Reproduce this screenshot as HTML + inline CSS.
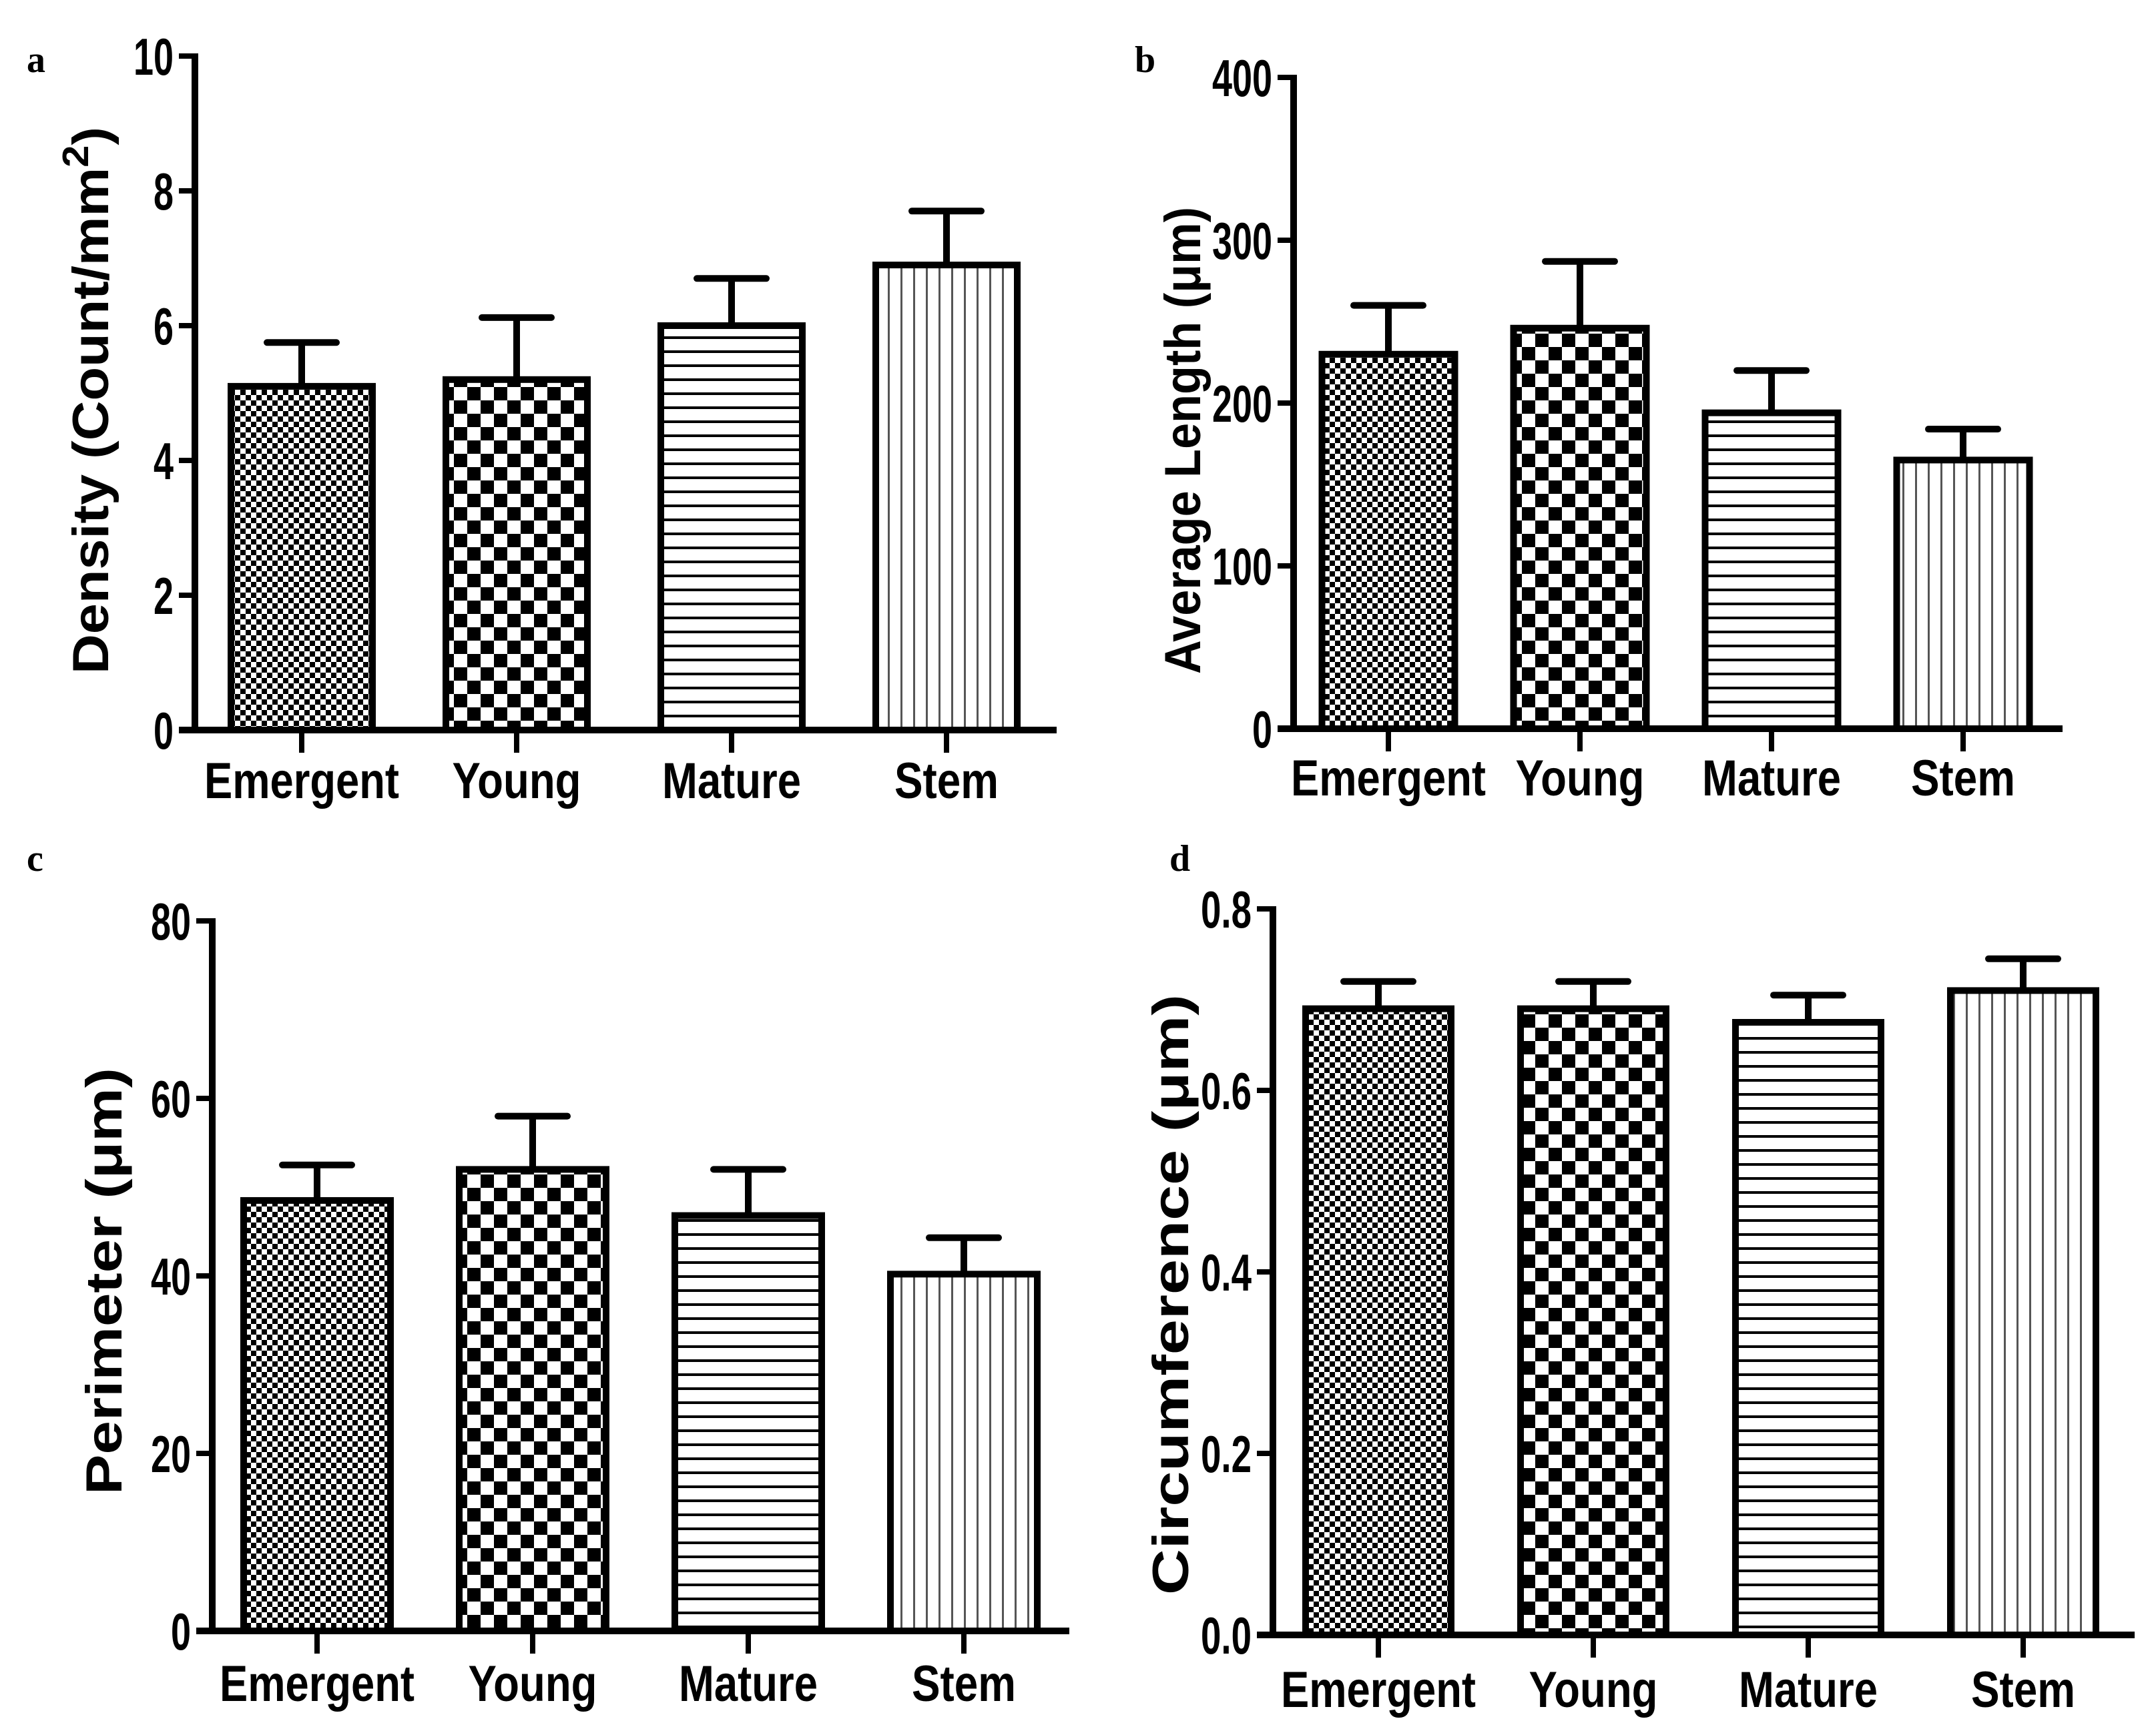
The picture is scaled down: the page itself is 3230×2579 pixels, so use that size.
<!DOCTYPE html>
<html><head><meta charset="utf-8"><style>
html,body{margin:0;padding:0;background:#fff;}
svg{display:block;}
text{font-family:"Liberation Sans",sans-serif;font-weight:bold;fill:#000;}
.pl{font-family:"Liberation Serif",serif;font-weight:bold;font-size:56px;}
</style></head><body>
<svg id="fig" width="3230" height="2579" viewBox="0 0 3230 2579" xmlns="http://www.w3.org/2000/svg">
<defs>
<pattern id="pE" patternUnits="userSpaceOnUse" width="16" height="16"><rect width="16" height="16" fill="#fff"/><rect width="8" height="8" fill="#000"/><rect x="8" y="8" width="8" height="8" fill="#000"/></pattern>
<pattern id="pY" patternUnits="userSpaceOnUse" width="40" height="40"><rect width="40" height="40" fill="#fff"/><rect width="20" height="20" fill="#000"/><rect x="20" y="20" width="20" height="20" fill="#000"/></pattern>
<pattern id="pM" patternUnits="userSpaceOnUse" width="21" height="21"><rect width="21" height="21" fill="#fff"/><rect y="0" width="21" height="4" fill="#000"/></pattern>
<pattern id="pS" patternUnits="userSpaceOnUse" width="19" height="19"><rect width="19" height="19" fill="#fff"/><rect x="0" width="3" height="19" fill="#555"/></pattern>
</defs>
<text class="pl" x="40" y="108">a</text>
<text class="pl" x="1700" y="108">b</text>
<text class="pl" x="40" y="1305">c</text>
<text class="pl" x="1752" y="1305">d</text>
</svg>
<script>
const categories = ["Emergent","Young","Mature","Stem"];
const densityMeans = [5.1, 5.2, 6.0, 6.9];
const densityErr = [0.65, 0.92, 0.7, 0.8];
const lengthMeans = [230, 246, 194, 165];
const lengthErr = [30, 41, 26, 19];
const perimeterMeans = [48.5, 52.0, 46.8, 40.2];
const perimeterErr = [4.0, 6.0, 5.2, 4.1];
const circMeans = [0.69, 0.69, 0.675, 0.71];
const circErr = [0.03, 0.03, 0.03, 0.035];
const densityTicks = ["0","2","4","6","8","10"];
const lengthTicks = ["0","100","200","300","400"];
const perimeterTicks = ["0","20","40","60","80"];
const circTicks = ["0.0","0.2","0.4","0.6","0.8"];

const NS = "http://www.w3.org/2000/svg";
const svg = document.getElementById("fig");
const fills = ["url(#pE)","url(#pY)","url(#pM)","url(#pS)"];
function mk(tag, attrs, parent){
  const e = document.createElementNS(NS, tag);
  for (const k in attrs) e.setAttribute(k, attrs[k]);
  (parent||svg).appendChild(e);
  return e;
}
const labelW = [292,193,208,156];

function panel(p){
  const g = mk("g", {});
  
  
  const ymax = parseFloat(p.ticks[p.ticks.length-1]);
  const yS = v => p.y0 - (v/ymax)*(p.y0 - p.ytop);
  const xS = i => p.first + i*p.step;
  p.means.forEach((m,i)=>{
    const cx = xS(i);
    const top = yS(m + p.err[i]);
    const ln = mk("line",{x1:cx,x2:cx,y1:yS(m),y2:top,stroke:"#000","stroke-width":10},g);
    
    
    const cap = mk("line",{x1:cx-52,x2:cx+52,y1:top,y2:top,stroke:"#000","stroke-width":10,"stroke-linecap":"round"},g);
    
    
    const r = mk("rect",{x:cx-p.bw/2,y:yS(m),width:p.bw,height:p.y0-yS(m),fill:fills[i],stroke:"#000","stroke-width":10},g);
    
    
    const tk = mk("line",{x1:cx,x2:cx,y1:p.y0,y2:p.y0+34,stroke:"#000","stroke-width":8},g);
    
    
    const t = mk("text",{x:cx,y:p.y0+p.ly,"text-anchor":"middle","font-size":76,textLength:labelW[i],lengthAdjust:"spacingAndGlyphs"},g);
    t.textContent = categories[i];
    
    
  });
  const ya = mk("line",{x1:p.x0,x2:p.x0,y1:p.ytop-4,y2:p.y0+5,stroke:"#000","stroke-width":10},g);
  
  
  const xa = mk("line",{x1:p.x0-24,x2:p.xend,y1:p.y0,y2:p.y0,stroke:"#000","stroke-width":10},g);
  
  
  p.ticks.forEach(tv=>{
    const y = yS(parseFloat(tv));
    const tk = mk("line",{x1:p.x0-24,x2:p.x0,y1:y,y2:y,stroke:"#000","stroke-width":8},g);
    
    
    const s = String(tv);
    let w = 0; for (const ch of s) w += (ch === "." ? 16 : 30);
    const t = mk("text",{x:p.x0-32,y:y+28,"text-anchor":"end","font-size":78,textLength:w,lengthAdjust:"spacingAndGlyphs"},g);
    t.textContent = s;
    
    
  });
  const tt = mk("text",{x:0,y:0,"text-anchor":"middle","font-size":76,textLength:p.tlen,lengthAdjust:"spacingAndGlyphs",transform:"translate("+p.tx+","+p.ty+") rotate(-90)"},g);
  tt.innerHTML = p.title;
  
  
}

panel({id:"a",means:densityMeans,err:densityErr,ticks:densityTicks,x0:292,y0:1094,ytop:84,xend:1583,first:452,step:322,bw:212,ly:102,
  title:'Density (Count/mm<tspan dy="-30" font-size="55">2</tspan><tspan dy="30">)</tspan>',tx:162,ty:600,tlen:820});
panel({id:"b",means:lengthMeans,err:lengthErr,ticks:lengthTicks,x0:1938,y0:1092,ytop:116,xend:3090,first:2080,step:287,bw:199,ly:100,
  title:'Average Length (μm)',tx:1798,ty:660,tlen:700});
panel({id:"c",means:perimeterMeans,err:perimeterErr,ticks:perimeterTicks,x0:318,y0:2444,ytop:1380,xend:1602,first:475,step:323,bw:220,ly:105,
  title:'Perimeter (μm)',tx:182,ty:1920,tlen:640});
panel({id:"d",means:circMeans,err:circErr,ticks:circTicks,x0:1907,y0:2450,ytop:1362,xend:3198,first:2065,step:322,bw:218,ly:108,
  title:'Circumference (μm)',tx:1780,ty:1940,tlen:900});
</script>
</body></html>
